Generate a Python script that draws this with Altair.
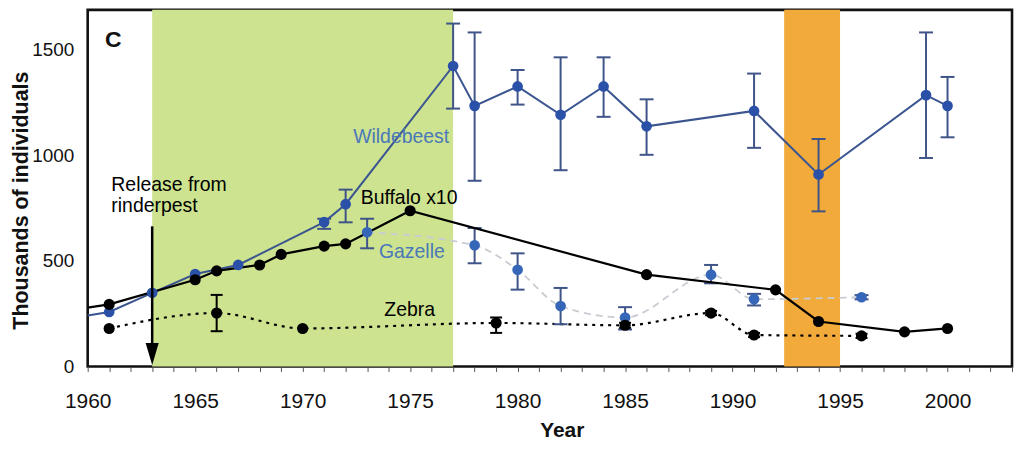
import altair as alt
import pandas as pd

# ---------------- data (thousands of individuals) ----------------
wb_years = [1961, 1963, 1965, 1967, 1971, 1972, 1977, 1978, 1980, 1982, 1984, 1986, 1991, 1994, 1999, 2000]
wb_vals = [258, 349, 438, 481, 684, 769, 1424, 1235, 1327, 1193, 1327, 1138, 1211, 910, 1286, 1235]
wb_err_years = [1971, 1972, 1977, 1978, 1980, 1982, 1984, 1986, 1991, 1994, 1999, 2000]
wb_err_lo = [652, 683, 1222, 880, 1241, 930, 1183, 1003, 1036, 735, 988, 1086]
wb_err_hi = [700, 838, 1625, 1583, 1405, 1465, 1465, 1266, 1388, 1078, 1583, 1372]
wb_lead = (1960, 241)

bu_years = [1961, 1965, 1966, 1968, 1969, 1971, 1972, 1975, 1986, 1992, 1994, 1998, 2000]
bu_vals = [294, 411, 453, 481, 531, 570, 581, 738, 435, 363, 213, 164, 180]
bu_lead = (1960, 279)

gz_years = [1973, 1978, 1980, 1982, 1985, 1989, 1991, 1996]
gz_vals = [636, 574, 458, 286, 232, 435, 319, 328]
gz_lo = [560, 489, 364, 200, 175, 394, 289, 318]
gz_hi = [700, 656, 536, 372, 281, 481, 344, 338]

ze_years = [1961, 1966, 1970, 1979, 1985, 1989, 1991, 1996]
ze_vals = [180, 253, 180, 206, 195, 253, 149, 145]
ze_err_years = [1966, 1979, 1985, 1989, 1991, 1996]
ze_err_lo = [167, 159, 183, 243, 139, 135]
ze_err_hi = [339, 232, 207, 263, 159, 155]

bands_start = [1963, 1992.4]
bands_end = [1977, 1995]
bands_color = ["#cde38f", "#f2aa3a"]

label_texts = ["Wildebeest", "Buffalo x10", "Gazelle", "Zebra", "Release from", "rinderpest"]
label_x = [1972.35, 1972.7, 1973.55, 1973.8, 1961.1, 1961.1]
label_y = [1060, 769, 516, 238, 832, 731]
label_color = ["#4a78b8", "#000000", "#4a78b8", "#000000", "#000000", "#000000"]

panel_letter = ["C"]
panel_x = [1960.8]
panel_y = [1513]

arrow_year = [1963]
arrow_top = [664]
arrow_shaft_end = [100]
arrow_head = [59]

# ---------------- helpers ----------------
W, H = 928, 358
xs = alt.Scale(domain=[1960, 2003], nice=False, zero=False)
ys = alt.Scale(domain=[0, 1690], nice=False)

x_axis = alt.Axis(
    values=list(range(1960, 2004)),
    labelExpr="datum.value % 5 === 0 ? datum.value : ''",
    labelOverlap=False, labelFlush=False,
    grid=False, domain=False, tickSize=5, tickColor="#555555", tickWidth=1,
    labelFontSize=21, labelFont="Liberation Sans", labelColor="#111111",
    labelPadding=19,
    titleFontSize=21, titleFont="Liberation Sans", titleFontWeight="bold",
    titleColor="#111111", titlePadding=8, titleX=476,
)
y_axis = alt.Axis(
    values=[0, 500, 1000, 1500], format="d", grid=False, domain=False, ticks=False,
    labelFontSize=19, labelFont="Liberation Sans", labelColor="#111111",
    labelPadding=14,
    titleFontSize=21.5, titleFont="Liberation Sans", titleFontWeight="bold",
    titleColor="#111111", titleBaseline="alphabetic", titleAngle=270,
    titleX=-60, titleY=191,
)


def X(field):
    return alt.X(field, type="quantitative", scale=xs, axis=x_axis, title="Year")


def Y(field):
    return alt.Y(field, type="quantitative", scale=ys, axis=y_axis, title="Thousands of individuals")


# ---------------- tables ----------------
bands = pd.DataFrame({"start": bands_start, "end": bands_end, "color": bands_color})
wb_line = pd.DataFrame({"year": [wb_lead[0]] + wb_years, "value": [wb_lead[1]] + wb_vals})
wb_pts = pd.DataFrame({"year": wb_years, "value": wb_vals})
wb_err = pd.DataFrame({"year": wb_err_years, "lo": wb_err_lo, "hi": wb_err_hi})
bu_line = pd.DataFrame({"year": [bu_lead[0]] + bu_years, "value": [bu_lead[1]] + bu_vals})
bu_pts = pd.DataFrame({"year": bu_years, "value": bu_vals})
gz = pd.DataFrame({"year": gz_years, "value": gz_vals, "lo": gz_lo, "hi": gz_hi})
ze = pd.DataFrame({"year": ze_years, "value": ze_vals})
ze_err = pd.DataFrame({"year": ze_err_years, "lo": ze_err_lo, "hi": ze_err_hi})
labels = pd.DataFrame({"t": label_texts, "year": label_x, "value": label_y, "c": label_color})
letter = pd.DataFrame({"t": panel_letter, "year": panel_x, "value": panel_y})
arrow = pd.DataFrame({"year": arrow_year, "top": arrow_top, "end": arrow_shaft_end, "head": arrow_head})

# ---------------- layers ----------------
band_layer = alt.Chart(bands).mark_rect(opacity=1).encode(
    x=X("start"), x2="end", y=alt.value(0), y2=alt.value(H),
    color=alt.Color("color:N", scale=None),
)

gz_line_layer = alt.Chart(gz).mark_line(
    color="#c9ccd3", strokeWidth=1.8, strokeDash=[7, 5], interpolate="monotone"
).encode(x=X("year"), y=Y("value"))

ze_line_layer = alt.Chart(ze).mark_line(
    color="#000000", strokeWidth=2.2, strokeDash=[3, 5], interpolate="monotone"
).encode(x=X("year"), y=Y("value"))


def errbars(df, color, cap):
    stem = alt.Chart(df).mark_rule(color=color, strokeWidth=2).encode(
        x=X("year"), y=Y("lo"), y2="hi")
    top = alt.Chart(df).mark_rule(
        color=color, strokeWidth=2, xOffset=-cap / 2, x2Offset=cap / 2
    ).encode(x=X("year"), x2="year", y=Y("hi"))
    bot = alt.Chart(df).mark_rule(
        color=color, strokeWidth=2, xOffset=-cap / 2, x2Offset=cap / 2
    ).encode(x=X("year"), x2="year", y=Y("lo"))
    return [stem, top, bot]


wb_err_layer = errbars(wb_err, "#3f5488", 14)
gz_err_layer = errbars(gz, "#3f5488", 14)
ze_err_layer = errbars(ze_err, "#000000", 12)

wb_line_layer = alt.Chart(wb_line).mark_line(color="#3b5590", strokeWidth=2).encode(
    x=X("year"), y=Y("value"))
bu_line_layer = alt.Chart(bu_line).mark_line(color="#000000", strokeWidth=2.2).encode(
    x=X("year"), y=Y("value"))

wb_pt_layer = alt.Chart(wb_pts).mark_point(filled=True, size=115, color="#2a50a8", opacity=1).encode(
    x=X("year"), y=Y("value"))
gz_pt_layer = alt.Chart(gz).mark_point(filled=True, size=115, color="#3566b8", opacity=1).encode(
    x=X("year"), y=Y("value"))
bu_pt_layer = alt.Chart(bu_pts).mark_point(filled=True, size=125, color="#000000", opacity=1).encode(
    x=X("year"), y=Y("value"))
ze_pt_layer = alt.Chart(ze).mark_point(filled=True, size=125, color="#000000", opacity=1).encode(
    x=X("year"), y=Y("value"))

text_layer = alt.Chart(labels).mark_text(
    align="left", baseline="alphabetic", font="Liberation Sans", fontSize=19.5
).encode(x=X("year"), y=Y("value"), text="t:N", color=alt.Color("c:N", scale=None))

letter_layer = alt.Chart(letter).mark_text(
    align="left", baseline="alphabetic", font="Liberation Sans", fontSize=23,
    fontWeight="bold", color="#111111"
).encode(x=X("year"), y=Y("value"), text="t:N")

arrow_shaft = alt.Chart(arrow).mark_rule(color="#000000", strokeWidth=2.5).encode(
    x=X("year"), y=Y("top"), y2="end")
arrow_tip = alt.Chart(arrow).mark_point(
    shape="M-0.6,-1L0.6,-1L0,1Z", filled=True, size=480, color="#000000", opacity=1
).encode(x=X("year"), y=Y("head"))

chart = alt.layer(
    band_layer,
    gz_line_layer, ze_line_layer,
    *wb_err_layer, *gz_err_layer, *ze_err_layer,
    wb_line_layer, bu_line_layer,
    wb_pt_layer, gz_pt_layer, bu_pt_layer, ze_pt_layer,
    text_layer, letter_layer,
    arrow_shaft, arrow_tip,
).properties(
    width=W, height=H,
    padding={"left": 80, "top": 1, "right": 4, "bottom": 76},
    autosize=alt.AutoSizeParams(type="none"),
    background="white",
).configure_view(stroke="#111111", strokeWidth=2.6)

chart.save("out.html", embed_options={"renderer": "svg", "actions": False})
